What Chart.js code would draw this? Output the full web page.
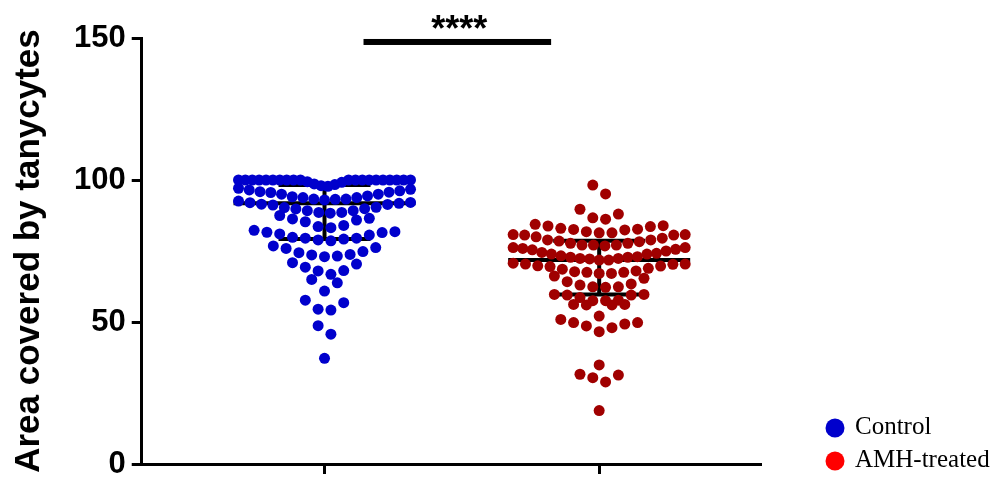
<!DOCTYPE html>
<html>
<head>
<meta charset="utf-8">
<title>Area covered by tanycytes</title>
<style>
  body { margin: 0; padding: 0; background: #fff; }
  #chart { display: block; }
</style>
<script src="https://cdn.jsdelivr.net/npm/chart.js@4.4.1/dist/chart.umd.min.js"></script>
</head>
<body>
<canvas id="chart" width="993" height="489"></canvas>
<script>
// groups along the x axis (1 and 2 on the linear scale)
const groups = ['Control', 'AMH-treated'];

// one value per dot
const controlValues = [
  100, 100, 100, 100, 100, 100, 100, 100, 100, 100,
  100, 100, 100, 100, 100, 100, 100, 100, 100, 100,
  97.8, 98.0, 98.4, 98.6, 99.2, 99.4,
  96.7, 96.2, 95.7, 95.0, 94.4, 93.8, 93.3, 93.2, 93.0, 93.3, 93.8, 94.1, 95.0, 95.6, 95.9, 96.5, 97.1,
  92.1, 91.8, 91.4, 90.4, 89.9, 89.2, 88.6, 88.3, 88.6, 89.2, 89.8, 90.3, 91.2, 91.5, 92.0, 92.6,
  87.5, 86.3, 85.3, 83.6, 83.2, 84.0, 85.9, 86.5,
  81.8, 81.5, 80.6, 79.5, 79.2, 78.6, 78.9, 79.5, 79.8, 81.0, 81.6, 82.3,
  76.2, 74.8, 73.8, 73.2, 73.0, 73.6, 74.4, 75.9, 76.8,
  70.4, 68.1, 66.8, 68.0, 69.3, 70.9,
  63.8, 65.0, 60.9,
  56.8, 54.2, 54.5, 57.7,
  48.7, 45.7,
  37.2
];
const amhValues = [
  95.1, 98.2,
  86.7, 86.2, 88.0, 89.7,
  84.4, 83.8, 83.0, 82.6, 81.8, 81.4, 81.4, 82.4, 82.7, 83.6, 83.9,
  80.8, 80.6, 80.0, 78.9, 78.5, 77.7, 77.1, 77.1, 76.8, 77.1, 77.7, 78.3, 78.9, 79.5, 80.6, 80.8,
  76.2, 75.9, 75.4, 74.5, 73.9, 73.3, 72.8, 72.2, 72.4, 71.8, 71.8, 72.4, 72.8, 73.0, 73.9, 74.2, 75.0, 75.6, 76.2,
  70.4, 70.3, 69.7, 68.9, 68.0, 67.5, 67.1, 67.1, 67.5, 67.7, 68.6, 69.5, 69.8, 70.4, 70.7,
  65.4, 63.4, 62.4, 62.2, 62.4, 63.0, 64.2, 66.2,
  59.7, 59.5, 58.6, 57.5, 57.5, 57.7, 59.5, 59.7,
  52.1, 56.0, 56.0, 56.2, 56.2,
  49.8, 49.3, 48.0, 46.6, 48.6, 49.8, 50.9,
  34.9,
  31.6, 30.4, 28.9, 31.3,
  18.8
];

// median with interquartile range
const medians = [91.8, 71.8];
const lowerQuartiles = [79.2, 59.7];
const upperQuartiles = [98.2, 78.6];

const yTicks = [0, 50, 100, 150];

// significance between the two groups
const sigLabel = '****';
const sigLevel = 148.6;

const dotColors = ['#0000cc', '#a00000'];
const legendColors = ['#0000cc', '#ff0000'];

const ROW_BAND = 4.5;   // values closer than this share a row
const DOT_GAP = 12.8;   // px between dots in a row
const MAX_HALF = 86;    // px, half width of the widest row
const MEDIAN_HALF = 91; // px
const CAP_HALF = 46;    // px

// beeswarm: bin sorted values into rows, spread each row round the centre
function swarm(values, center, unitsPerPx) {
  const sorted = values.slice().sort((a, b) => a - b);
  const rows = [];
  let row = [];
  sorted.forEach(v => {
    if (row.length && v - row[0] > ROW_BAND) { rows.push(row); row = []; }
    row.push(v);
  });
  if (row.length) rows.push(row);

  const pts = [];
  rows.forEach(r => {
    const n = r.length;
    const gap = n > 1 ? Math.min(DOT_GAP, 2 * MAX_HALF / (n - 1)) : 0;
    const slots = [];
    for (let i = 0; i < n; i++) slots.push((i - (n - 1) / 2) * gap);
    slots.sort((a, b) => Math.abs(a) - Math.abs(b) || b - a);
    r.forEach((v, i) => pts.push({ x: center + slots[i] * unitsPerPx, y: v }));
  });
  return pts;
}

function whisker(i, unitsPerPx) {
  const c = i + 1;
  const m = MEDIAN_HALF * unitsPerPx;
  const k = CAP_HALF * unitsPerPx;
  return [
    { x: c - m, y: medians[i] }, { x: c + m, y: medians[i] }, { x: c, y: null },
    { x: c - k, y: upperQuartiles[i] }, { x: c + k, y: upperQuartiles[i] }, { x: c, y: null },
    { x: c - k, y: lowerQuartiles[i] }, { x: c + k, y: lowerQuartiles[i] }, { x: c, y: null },
    { x: c, y: upperQuartiles[i] }, { x: c, y: lowerQuartiles[i] }
  ];
}

const tickFont = { family: '"Liberation Sans", Arial, sans-serif', size: 31, weight: 'bold' };
const titleFont = { family: '"Liberation Sans", Arial, sans-serif', size: 35, weight: 'bold' };

const extras = {
  id: 'extras',
  afterDraw(chart) {
    const { ctx, chartArea, scales: { x, y } } = chart;
    ctx.save();
    // significance bar and stars
    const x1 = x.getPixelForValue(1.142);
    const x2 = x.getPixelForValue(1.825);
    const by = y.getPixelForValue(sigLevel);
    ctx.fillStyle = '#000';
    ctx.fillRect(x1, by - 3, x2 - x1, 6);
    ctx.font = 'bold 36px "Liberation Sans", Arial, sans-serif';
    ctx.textAlign = 'center';
    ctx.textBaseline = 'alphabetic';
    ctx.fillText(sigLabel, (x1 + x2) / 2 + 2, by - 1);

    // legend, bottom right outside the plot
    ctx.font = '25px "Liberation Serif", "Times New Roman", serif';
    ctx.textAlign = 'left';
    groups.forEach((g, i) => {
      const cy = chartArea.bottom - 36 + i * 33;
      ctx.fillStyle = legendColors[i];
      ctx.beginPath();
      ctx.arc(chartArea.right + 75, cy, 9.5, 0, Math.PI * 2);
      ctx.fill();
      ctx.fillStyle = '#000';
      ctx.fillText(g, chartArea.right + 95, cy + 6);
    });
    ctx.restore();
  }
};

const dotSets = groups.map((g, i) => ({
  label: g,
  data: [],
  backgroundColor: dotColors[i],
  borderWidth: 0,
  pointRadius: 5.5,
  order: 0
}));
const whiskerSets = groups.map(g => ({
  label: g + ' median',
  data: [],
  showLine: true,
  spanGaps: false,
  borderColor: '#000',
  borderWidth: 4,
  pointRadius: 0,
  order: 1
}));

const chart = new Chart(document.getElementById('chart'), {
  type: 'scatter',
  data: { datasets: dotSets.concat(whiskerSets) },
  options: {
    responsive: false,
    animation: false,
    events: [],
    devicePixelRatio: 1,
    layout: { padding: { left: 0, top: 38, right: 233, bottom: 15 } },
    plugins: { legend: { display: false }, tooltip: { enabled: false } },
    scales: {
      x: {
        type: 'linear',
        min: 0.3345,
        max: 2.5855,
        afterBuildTicks: s => { s.ticks = groups.map((g, i) => ({ value: i + 1 })); },
        ticks: { display: false },
        grid: { drawOnChartArea: false, drawTicks: true, tickLength: 10, lineWidth: 3, color: '#000' },
        border: { display: true, width: 3, color: '#000' }
      },
      y: {
        min: 0,
        max: 150,
        afterBuildTicks: s => { s.ticks = yTicks.map(v => ({ value: v })); },
        ticks: { color: '#000', font: tickFont, padding: 6 },
        grid: { drawOnChartArea: false, drawTicks: true, tickLength: 10, lineWidth: 3, color: '#000' },
        border: { display: true, width: 3, color: '#000' },
        title: {
          display: true,
          text: 'Area covered by tanycytes',
          color: '#000',
          font: titleFont,
          padding: { top: 8, bottom: 18 }
        }
      }
    }
  },
  plugins: [extras]
});

// place the dots once the scale is known
const xs = chart.scales.x;
const unitsPerPx = 1 / (xs.getPixelForValue(2) - xs.getPixelForValue(1));
chart.data.datasets[0].data = swarm(controlValues, 1, unitsPerPx);
chart.data.datasets[1].data = swarm(amhValues, 2, unitsPerPx);
chart.data.datasets[2].data = whisker(0, unitsPerPx);
chart.data.datasets[3].data = whisker(1, unitsPerPx);
chart.update('none');
</script>
</body>
</html>
